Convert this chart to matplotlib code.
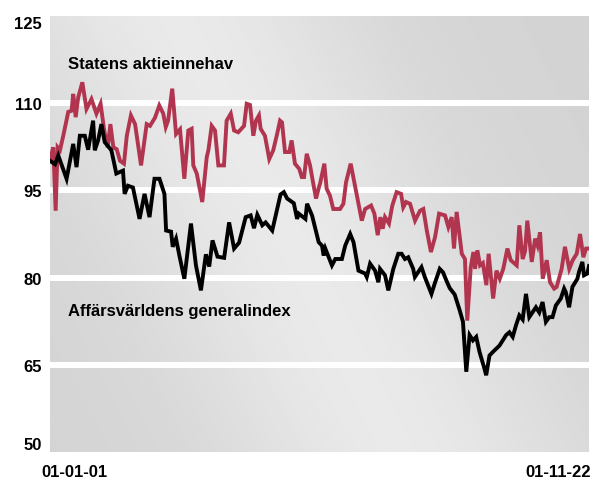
import numpy as np
import matplotlib.pyplot as plt
from matplotlib import font_manager

# days since 2001-01-01 and index values
black_days = [0, 3, 5, 10, 14, 16, 18, 21, 23, 26, 27, 29, 31, 33, 37, 40, 44, 45, 47, 50,
              54, 57, 60, 63, 66, 69, 70, 73, 74, 76, 78, 81, 85, 88, 91, 94, 96, 98, 101, 105,
              108, 111, 114, 118, 121, 123, 125, 128, 130, 134, 139, 141, 143, 147, 149, 150, 154, 155, 158, 162,
              164, 165, 166, 170, 172, 176, 178, 181, 183, 186, 190, 191, 193, 196, 198, 199, 202, 204, 207, 210,
              212, 214, 216, 219, 220, 224, 226, 230, 232, 235, 237, 239, 241, 244, 247, 249, 251, 253, 255, 257,
              259, 262, 263, 265, 267, 271, 275, 277, 279, 281, 283, 285, 287, 289, 293, 295, 297, 299, 301, 303,
              305, 308, 310, 311, 313, 315, 318, 319, 321, 322, 324, 325]
black_vals = [100.1, 99.5, 101, 97, 103, 99, 104.4, 104.4, 102, 107, 101.9, 103.6, 106.4, 103.3, 101.9, 97.9, 98.4, 94.4, 95.8, 95.5,
              90.1, 94.4, 90.4, 97, 97, 94.4, 88.1, 87.9, 85.3, 86.7, 83.8, 79.8, 89.3, 82.1, 77.8, 84, 81.9, 86.4, 83.6, 83.4,
              89.5, 85, 86, 90.4, 90.7, 88.5, 90.8, 89, 89.5, 88.1, 94.3, 94.7, 93.6, 92.8, 90.1, 91, 90.1, 92.7, 90.7, 86.1,
              85.5, 83.8, 85, 82.1, 83.2, 83.2, 85.5, 87.5, 86.1, 81.2, 80.7, 80.1, 82.4, 81.2, 79.2, 81.5, 80.4, 77.8, 81.5, 84.1,
              84.1, 83.2, 83.5, 81.5, 80.1, 81.8, 80.1, 77.2, 79, 81.5, 80.9, 79.5, 78.2, 77.1, 74.4, 72.4, 63.8, 70.1, 69.2, 69.8,
              67.2, 64.3, 63.2, 66.6, 67.2, 68.3, 70.1, 70.6, 69.8, 71.8, 73.5, 72.8, 77.2, 73.2, 74.9, 74, 75.8, 72.4, 73.2, 73.2,
              75.2, 76.4, 78.1, 77.5, 74.9, 78.4, 79.8, 81, 82.7, 80.4, 80.7, 82]

red_days = [0, 2, 3.4, 4.6, 6, 8, 11, 13, 14, 15.5, 17, 19.5, 22, 25, 28, 30.5, 32.7, 34.8, 36.4, 38.2,
            40.2, 42.2, 44.6, 46.3, 48.8, 51.3, 54.9, 58.3, 60.3, 63.3, 65.9, 68.3, 69.8, 71.2, 73.7, 76, 78.4, 81, 83.4, 85.4,
            86.4, 88.5, 91.8, 94.5, 95.5, 97.5, 99.5, 101.5, 104.9, 106.5, 109, 111, 113.5, 117, 118.6, 120.6, 122.6, 124.2, 126, 127,
            129.6, 132.2, 134.6, 136.7, 138.7, 139.9, 141.7, 144.3, 145.7, 147.7, 150.3, 151.8, 153.2, 154.8, 156.8, 158.4, 160.4, 162.4, 162.8, 165.4,
            166.8, 168.8, 170.8, 174.9, 176.9, 178.5, 181.3, 183.5, 188, 190, 193.6, 195.6, 197.6, 199.2, 200.6, 202, 204.4, 206.4, 209, 211.7,
            213, 214.7, 217.1, 220.1, 223.1, 225.1, 227.2, 229.7, 232.2, 234.6, 238.2, 240.2, 242.2, 243.6, 245.2, 248.3, 250.2, 251.6, 253.7, 255.3,
            256.3, 257.7, 259.3, 261, 263.1, 264.5, 267.2, 269.2, 271.2, 273.3, 275.8, 277.8, 281.4, 283, 285, 286.4, 287.8, 290.5, 292.5, 294,
            295.5, 297.1, 299.5, 301.5, 304, 305.5, 308.5, 310.5, 313.1, 315.2, 317.6, 319.6, 321.6, 323.2, 325]
red_vals = [100.4, 102.4, 91.5, 102.4, 101.9, 104.4, 108.5, 108.7, 111.6, 107.6, 111, 113.6, 109, 110.7, 108.2, 109.9, 105.3, 102.4, 106.4, 102.4,
            102.1, 100.1, 99.6, 104.4, 107.9, 106.4, 99.3, 106.4, 106.1, 107.5, 109.6, 108.2, 105.9, 107, 112.5, 104.7, 105.5, 97, 105.3, 105.6,
            99.3, 97.9, 93, 100.7, 101.9, 106.1, 105.3, 99.3, 99.3, 107, 108.2, 105.3, 105, 106.1, 109.9, 109.7, 104.4, 107, 107.9, 105.6,
            104.4, 100.4, 101.9, 104.4, 107, 106.7, 101.6, 101.6, 103.6, 99.6, 98.7, 97.3, 97.3, 101.3, 99.3, 96.7, 93.6, 95.8, 96.1, 99.6,
            95.3, 94.1, 91.8, 91.8, 92.7, 96.4, 99.6, 96.4, 89.8, 91.8, 92.4, 91, 87.3, 90.4, 88.4, 90.4, 89.3, 92.4, 94.7, 94.4,
            92.1, 93, 92.7, 89.8, 91.5, 91.8, 88.1, 84.4, 87, 91, 90.7, 88.7, 90.4, 85, 91.3, 84.1, 83.2, 72.6, 81.8, 84.4,
            81.5, 84.7, 82.1, 82.5, 78.7, 84.1, 76.4, 81.2, 79.8, 81.5, 85, 83, 82.1, 89, 83.2, 84.5, 89.8, 82.7, 86.7, 85.5,
            87.8, 79.8, 83, 79.2, 78.1, 78.4, 81.5, 85.3, 81.5, 83, 84.1, 87.5, 83.5, 85, 85]

yticks = [50, 65, 80, 95, 110, 125]
xtick_labels = ["01-01-01", "01-11-22"]
label_red = "Statens aktieinnehav"
label_black = "Affärsvärldens generalindex"

names = {f.name for f in font_manager.fontManager.ttflist}
fam = "Liberation Sans Narrow" if "Liberation Sans Narrow" in names else "Liberation Sans"
plt.rcParams['font.family'] = [fam, 'DejaVu Sans']
fs = 12

fig = plt.figure(figsize=(5.92, 4.81), dpi=100)
ax = fig.add_axes([50/592, (481-453)/481, (589-50)/592, (453-17)/481])

# diagonal light-grey gradient behind the plot
gx, gy = np.meshgrid(np.linspace(0, 1, 300), np.linspace(0, 1, 240))
t = gx*0.85 + (1-gy)*0.35
shade = 0.83 + 0.085*np.exp(-((t-0.55)/0.28)**2)
ax.imshow(shade, cmap='gray', vmin=0, vmax=1, extent=[0, 325, 50, 125],
          aspect='auto', origin='upper', zorder=0, interpolation='bilinear')

for v in yticks[1:-1]:
    ax.axhline(v, color='white', lw=4.3, zorder=1)

ax.plot(red_days, red_vals, color='#b2354f', lw=2.8, zorder=3, solid_joinstyle='miter')
ax.plot(black_days, black_vals, color='black', lw=2.8, zorder=4, solid_joinstyle='miter')

ax.set_xlim(0, 325)
ax.set_ylim(50, 125)
for s in ax.spines.values():
    s.set_visible(False)
ax.set_xticks([])
ax.set_yticks(yticks)
ax.set_yticklabels([str(v) for v in yticks], fontsize=fs, fontweight='bold')
ax.tick_params(axis='y', length=0, pad=6)
lbls = ax.get_yticklabels()
lbls[0].set_va('bottom')
lbls[-1].set_va('top')

ax.annotate(xtick_labels[0], xy=(0, 0), xycoords=('data', 'axes fraction'),
            xytext=(-6, -9), textcoords='offset points', ha='left', va='top',
            fontsize=fs, fontweight='bold')
ax.annotate(xtick_labels[1], xy=(325, 0), xycoords=('data', 'axes fraction'),
            xytext=(1, -9), textcoords='offset points', ha='right', va='top',
            fontsize=fs, fontweight='bold')

ax.text(11, 116.8, label_red, fontsize=fs, fontweight='bold', va='center', ha='left', zorder=5)
ax.text(11, 74.3, label_black, fontsize=fs, fontweight='bold', va='center', ha='left', zorder=5)

fig.savefig('out.png', dpi=100)
